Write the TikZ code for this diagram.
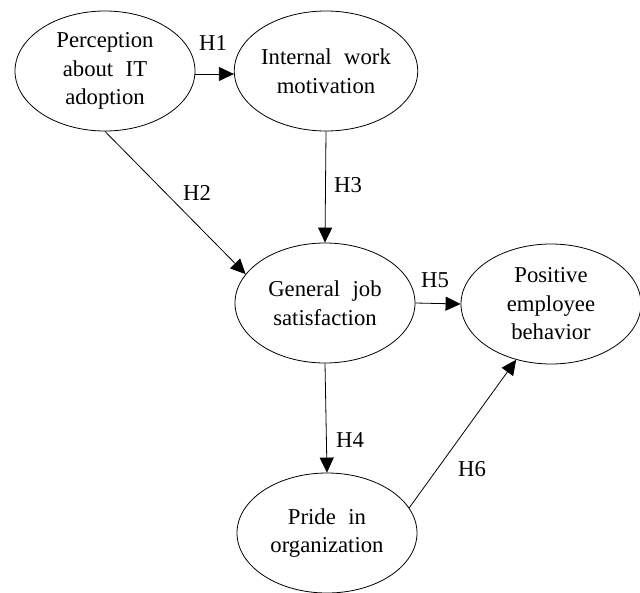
\documentclass[tikz,border=0pt]{standalone}
\usepackage{fontspec}
\setmainfont{Liberation Serif}
\usepackage{tikz}
\usetikzlibrary{arrows.meta,shapes.geometric}
\tikzstyle{construct} = [ellipse, draw, line width=0.8pt, minimum width=180pt, minimum height=120pt, inner sep=0pt, align=center, font=\fontsize{22.7}{28.5}\selectfont]
\tikzstyle{hyp} = [line width=0.8pt, ->, >={Triangle[length=15pt,width=14pt]}]
\tikzstyle{hlabel} = [inner sep=0pt, font=\fontsize{22.7}{28.5}\selectfont]
\newcommand{\wgap}{\hspace{0.55em}}

\begin{document}
\begin{tikzpicture}[x=1pt,y=1pt]
            \useasboundingbox (0,0) rectangle (640,-592);
            \node [construct] (perc) at (105,-71) {Perception\\about\wgap IT\\adoption};
            \node [construct] (intw) at (326,-71) {Internal\wgap work\\motivation};
            \node [construct] (gjs) at (325,-303) {General\wgap job\\satisfaction};
            \node [construct] (peb) at (551,-304) {Positive\\employee\\behavior};
            \node [construct] (pride) at (327,-533) {Pride\wgap in\\organization};
            \draw [hyp] ([yshift=-3pt]perc.east) -- ([yshift=-3pt]intw.west);
            \node [hlabel] (h1) at (213,-43) {H1};
            \draw [hyp] (perc.south) -- (gjs.160);
            \node [hlabel] (h2) at (197,-193) {H2};
            \draw [hyp] (intw.south) -- (gjs.north);
            \node [hlabel] (h3) at (348,-185) {H3};
            \draw [hyp] (gjs.south) -- (pride.north);
            \node [hlabel] (h4) at (350,-440) {H4};
            \draw [hyp] (gjs.east) -- (peb.west);
            \node [hlabel] (h5) at (435,-280) {H5};
            \draw [hyp] (pride.17) -- (peb.238);
            \node [hlabel] (h6) at (472,-469) {H6};
\end{tikzpicture}
\end{document}
